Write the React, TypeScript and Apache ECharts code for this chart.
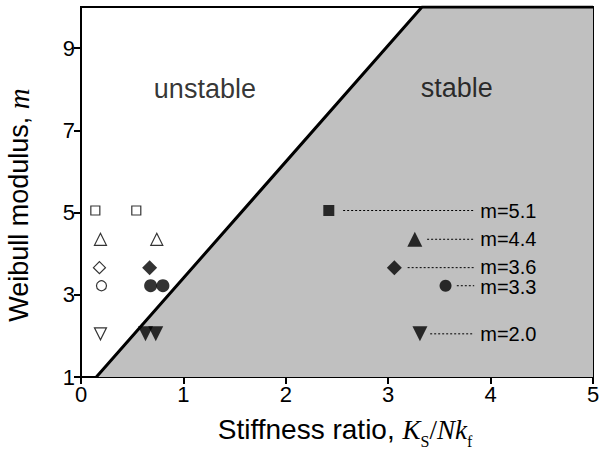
import React, { useEffect, useRef } from "react";
import * as echarts from "echarts";

const yTicks = [1, 3, 5, 7, 9];
const boundary = [[0.15, 1], [3.33, 10], [5, 10]];
const openSquares = [[0.14, 5.05], [0.54, 5.05]];
const openTriUp = [[0.19, 4.35], [0.74, 4.35]];
const openDiamond = [[0.18, 3.66]];
const openCircle = [[0.2, 3.22]];
const openTriDown = [[0.19, 2.05]];
const filledDiamond = [[0.67, 3.66]];
const filledCircle = [[0.68, 3.22], [0.8, 3.22]];
const filledTriDown = [[0.63, 2.05], [0.73, 2.05]];
const keyNames = ["m=5.1", "m=4.4", "m=3.6", "m=3.3", "m=2.0"];
const keyX = [2.42, 3.26, 3.06, 3.56, 3.31];
const keyM = [5.05, 4.35, 3.66, 3.22, 2.05];
const keyLeadStart = [2.56, 3.38, 3.19, 3.67, 3.41];
const keyLeadEnd = 3.84;
const keySymbols = ["rect", "triangle", "diamond", "circle", "triangle"];
const keyRotate = [0, 0, 0, 0, 180];
const keySizes = [11, 15, 15, 12, 15];
const keyLabelShift = [0, 0, -1, 1, 0];
const regionLabels = [
  { name: "unstable", x: 1.21, y: 8.0 },
  { name: "stable", x: 3.67, y: 8.03 },
];

const SANS = "'Liberation Sans', Arial, sans-serif";
const SERIF = "'Liberation Serif', 'Times New Roman', serif";

export default function App() {
  const ref = useRef<HTMLDivElement>(null);
  useEffect(() => {
    if (!ref.current) return;
    const chart = echarts.init(ref.current, null, { renderer: "svg" });
    const openStyle = { color: "#fff", borderColor: "#000", borderWidth: 1.2 };
    const open = (data: number[][], symbol: string, size: number, rot = 0) => ({
      type: "scatter",
      data,
      symbol,
      symbolSize: size,
      symbolRotate: rot,
      itemStyle: openStyle,
      z: 5,
    });
    const filled = (data: number[][], symbol: string, size: number, rot = 0) => ({
      type: "scatter",
      data,
      symbol,
      symbolSize: size,
      symbolRotate: rot,
      itemStyle: { color: "#000" },
      z: 5,
    });
    const series: any[] = [
      {
        type: "line",
        data: boundary,
        symbol: "none",
        lineStyle: { color: "#000", width: 3 },
        areaStyle: { color: "#c0c0c0", opacity: 1, origin: "start" },
        z: 1,
      },
      open(openSquares, "rect", 9),
      open(openTriUp, "triangle", 12),
      open(openDiamond, "diamond", 12),
      open(openCircle, "circle", 10),
      open(openTriDown, "triangle", 12, 180),
      filled(filledDiamond, "diamond", 15),
      filled(filledCircle, "circle", 13),
      filled(filledTriDown, "triangle", 15, 180),
    ];
    keyNames.forEach((n, i) => {
      series.push(filled([[keyX[i], keyM[i]]], keySymbols[i], keySizes[i], keyRotate[i]));
      series.push({
        type: "line",
        name: n,
        data: [[keyLeadStart[i], keyM[i]], [keyLeadEnd, keyM[i]]],
        symbol: "none",
        lineStyle: { color: "#000", width: 1, type: [2, 2] },
        endLabel: {
          show: true,
          formatter: n,
          distance: 6,
          offset: [0, keyLabelShift[i]],
          color: "#000",
          fontFamily: SANS,
          fontSize: 20,
          lineHeight: 15,
        },
        z: 4,
      });
    });
    series.push({
      type: "scatter",
      data: regionLabels.map((r) => ({ name: r.name, value: [r.x, r.y] })),
      symbolSize: 0,
      label: {
        show: true,
        position: "inside",
        formatter: "{b}",
        color: "#000",
        fontFamily: SANS,
        fontSize: 27,
      },
      z: 6,
    });

    chart.setOption({
      animation: false,
      backgroundColor: "#fff",
      grid: {
        left: 81,
        right: 7,
        top: 7,
        bottom: 73,
        outerBoundsMode: "none",
        containLabel: false,
        show: true,
        borderColor: "#000",
        borderWidth: 2,
        backgroundColor: "transparent",
      },
      xAxis: {
        type: "value",
        min: 0,
        max: 5,
        interval: 1,
        splitLine: { show: false },
        axisLine: { lineStyle: { color: "#000", width: 2 } },
        axisTick: { length: 7, lineStyle: { color: "#000", width: 2 } },
        axisLabel: { color: "#000", fontFamily: SANS, fontSize: 22, margin: 6 },
        name: "{a|Stiffness ratio, }{i|K}{s|S}{a2|/}{i|Nk}{s|f}",
        nameLocation: "middle",
        nameGap: 36,
        nameTextStyle: {
          padding: [0, 0, 0, 16],
          rich: {
            a: { fontFamily: SANS, fontSize: 28, color: "#000", lineHeight: 30, verticalAlign: "bottom" },
            a2: { fontFamily: SERIF, fontSize: 27, color: "#000", lineHeight: 30, verticalAlign: "bottom" },
            i: { fontFamily: SERIF, fontStyle: "italic", fontSize: 27, color: "#000", lineHeight: 30, verticalAlign: "bottom" },
            s: { fontFamily: SERIF, fontSize: 16, color: "#000", lineHeight: 22, verticalAlign: "bottom", padding: [0, 0, -6, 0] },
          },
        },
      },
      yAxis: {
        type: "value",
        min: 1,
        max: 10,
        interval: 2,
        splitLine: { show: false },
        axisLine: { lineStyle: { color: "#000", width: 2 } },
        axisTick: { length: 7, customValues: yTicks, lineStyle: { color: "#000", width: 2 } },
        axisLabel: { color: "#000", fontFamily: SANS, fontSize: 22, margin: 6, customValues: yTicks },
        name: "{a|Weibull modulus, }{i|m}",
        nameLocation: "middle",
        nameGap: 48,
        nameRotate: 90,
        nameTextStyle: {
          padding: [0, 26, 0, 0],
          rich: {
            a: { fontFamily: SANS, fontSize: 27, color: "#000" },
            i: { fontFamily: SERIF, fontStyle: "italic", fontSize: 29, color: "#000" },
          },
        },
      },
      series,
    });
    return () => chart.dispose();
  }, []);
  return <div ref={ref} style={{ width: 600, height: 450, position: "absolute", left: 0, top: 0 }} />;
}
